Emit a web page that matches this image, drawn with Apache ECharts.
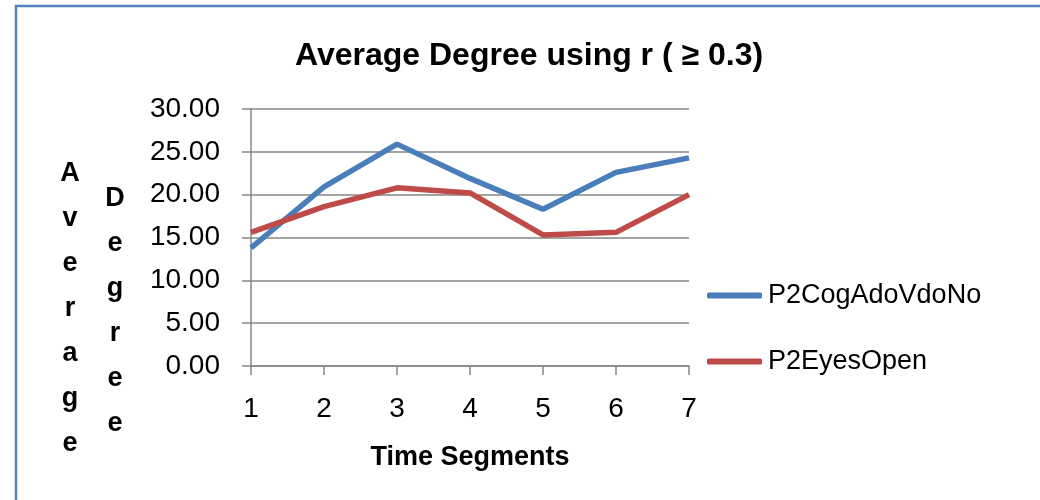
<!DOCTYPE html>
<html>
<head>
<meta charset="utf-8">
<script src="https://cdn.jsdelivr.net/npm/echarts@6/dist/echarts.min.js"></script>
<style>html,body{margin:0;padding:0;background:#fff;}#chart{width:1040px;height:500px;}</style>
</head>
<body>
<div id="chart"></div>
<script>
const categories = ['1', '2', '3', '4', '5', '6', '7'];
const cogAdoVdoNo = [13.8, 20.9, 25.9, 21.9, 18.3, 22.6, 24.3];
const eyesOpen = [15.6, 18.6, 20.8, 20.2, 15.3, 15.6, 20.0];
const seriesNames = ['P2CogAdoVdoNo', 'P2EyesOpen'];
const titleText = 'Average Degree using r ( \u2265 0.3)';

const FONT = '"Liberation Sans", Arial, sans-serif';
const chart = echarts.init(document.getElementById('chart'), null, {renderer: 'canvas'});
chart.setOption({
  animation: false,
  backgroundColor: '#fff',
  title: {
    text: titleText, left: 295, top: 40, padding: 0,
    textStyle: {fontFamily: FONT, fontWeight: 'bold', fontSize: 32, color: '#000'}
  },
  legend: {
    orient: 'vertical', left: 707, top: 282, padding: 0, itemWidth: 55, itemHeight: 6, itemGap: 39,
    icon: 'roundRect',
    textStyle: {fontFamily: FONT, fontSize: 27, color: '#000', padding: [0, 0, 0, 1]},
    data: seriesNames
  },
  grid: {left: 251, right: 351, top: 109, bottom: 134, containLabel: false},
  xAxis: {
    type: 'category', data: categories, boundaryGap: false,
    name: 'Time Segments', nameLocation: 'middle', nameGap: 78,
    nameTextStyle: {fontFamily: FONT, fontWeight: 'bold', fontSize: 27, color: '#000'},
    axisLine: {lineStyle: {color: '#868686', width: 1.5}},
    axisTick: {show: true, length: 9, lineStyle: {color: '#868686', width: 1.5}},
    axisLabel: {margin: 29, fontFamily: FONT, fontSize: 28, color: '#000'}
  },
  yAxis: {
    type: 'value', min: 0, max: 30, interval: 5,
    axisLine: {show: true, lineStyle: {color: '#868686', width: 1.5}},
    axisTick: {show: true, length: 9, lineStyle: {color: '#868686', width: 1.5}},
    splitLine: {lineStyle: {color: '#868686', width: 1.5}},
    axisLabel: {margin: 31, fontFamily: FONT, fontSize: 28, color: '#000', formatter: v => v.toFixed(2)}
  },
  series: [
    {name: seriesNames[0], type: 'line', data: cogAdoVdoNo, symbol: 'none',
     lineStyle: {color: '#4A7EBB', width: 5.5}, itemStyle: {color: '#4A7EBB'}},
    {name: seriesNames[1], type: 'line', data: eyesOpen, symbol: 'none',
     lineStyle: {color: '#BE4B48', width: 5.5}, itemStyle: {color: '#BE4B48'}}
  ],
  graphic: [
    {type: 'rect', shape: {x: 16, y: 6, width: 1100, height: 600}, silent: true,
     style: {fill: null, stroke: '#4F81BD', lineWidth: 2.5}},
    {type: 'text', x: 70, y: 151, silent: true,
     style: {text: 'A\nv\ne\nr\na\ng\ne', fontFamily: FONT, fontWeight: 'bold', fontSize: 27, lineHeight: 45, align: 'center', fill: '#000'}},
    {type: 'text', x: 115, y: 176, silent: true,
     style: {text: 'D\ne\ng\nr\ne\ne', fontFamily: FONT, fontWeight: 'bold', fontSize: 27, lineHeight: 45, align: 'center', fill: '#000'}}
  ]
});
</script>
</body>
</html>
